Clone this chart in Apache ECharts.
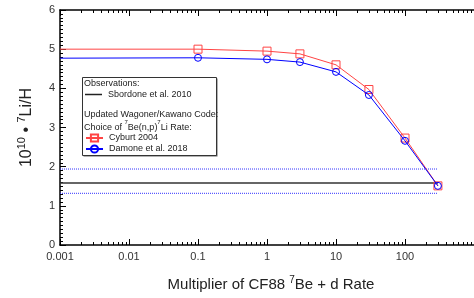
<!DOCTYPE html>
<html>
<head>
<meta charset="utf-8">
<script src="https://cdn.jsdelivr.net/npm/echarts@6/dist/echarts.min.js"></script>
<style>
  html, body { margin: 0; padding: 0; background: #fff; }
  #main { width: 474px; height: 298px; }
</style>
</head>
<body>
<div id="main"></div>
<script>
// multiplier of the CF88 7Be+d rate
var multipliers = [0.001, 0.1, 1, 3, 10, 30, 100, 300];
// 10^10 * 7Li/H
var cyburt2004 = [5.00, 5.00, 4.95, 4.88, 4.60, 3.97, 2.73, 1.51];
var damone2018 = [4.77, 4.78, 4.74, 4.67, 4.42, 3.83, 2.66, 1.51];
// observations (Sbordone et al. 2010) and its error band
var obsRange = [0.001, 300];
var obsMean = 1.58;
var obsHigh = 1.94;
var obsLow = 1.32;

var majorTicks = [0.001, 0.01, 0.1, 1, 10, 100, 1000];
var minorTicks = [];
for (var d = 0.001; d < 1000; d *= 10) {
  for (var m = 2; m <= 9; m++) minorTicks.push(+(d * m).toPrecision(3));
}

function pairs(xs, ys) {
  return xs.map(function (x, i) { return [x, ys[i]]; });
}
function flat(y) {
  return obsRange.map(function (x) { return [x, y]; });
}
function curve(xs, ys) {
  var out = pairs(xs, ys);
  // first point only starts the flat line at the axis, no marker
  out[0] = { value: out[0], symbol: 'none' };
  return out;
}

var font = 'Liberation Sans, Arial, sans-serif';
var red = '#ff4444', blue = '#0000ff';
var chart = echarts.init(document.getElementById('main'));

function xAx(pos, ticks, len, labels) {
  return {
    type: 'log', logBase: 10, min: 0.001, max: 1000, position: pos,
    axisLine: { show: labels, onZero: false, lineStyle: { color: '#000', width: 1.5 } },
    axisTick: { show: true, inside: true, length: len, customValues: ticks,
      lineStyle: { color: '#000', width: 1 } },
    axisLabel: { show: labels, customValues: [0.001, 0.01, 0.1, 1, 10, 100],
      color: '#333', fontSize: 11, fontFamily: font, margin: 6,
      formatter: function (v) { return String(v); } },
    splitLine: { show: false }
  };
}

chart.setOption({
  animation: false,
  backgroundColor: '#fff',
  grid: { left: 60, top: 10, width: 441, height: 235 },
  xAxis: [
    Object.assign(xAx('bottom', majorTicks, 6, true), {
      name: '{n|Multiplier of CF88 }{s|7}{n|Be + d Rate}',
      nameLocation: 'middle', nameGap: 30,
      nameTextStyle: { padding: [0, 0, 0, 8],
        rich: {
          n: { fontSize: 15, fontFamily: font, color: '#222', lineHeight: 20 },
          s: { fontSize: 10, fontFamily: font, color: '#222', verticalAlign: 'top', lineHeight: 20 }
        } }
    }),
    xAx('bottom', minorTicks, 3, false),
    Object.assign(xAx('top', majorTicks, 6, false), { axisLine: { show: true, onZero: false, lineStyle: { color: '#000', width: 1.5 } } }),
    xAx('top', minorTicks, 3, false)
  ],
  yAxis: {
    type: 'value', min: 0, max: 6, interval: 1,
    axisLine: { show: true, lineStyle: { color: '#000', width: 1.5 } },
    axisTick: { show: true, inside: true, length: 6, lineStyle: { color: '#000' } },
    minorTick: { show: true, splitNumber: 10, length: 3, lineStyle: { color: '#000' } },
    axisLabel: { color: '#333', fontSize: 11, fontFamily: font, margin: 5 },
    splitLine: { show: false },
    name: '{n|10}{s|10}{n| • }{s|7}{n|Li/H}',
    nameLocation: 'middle', nameGap: 22, nameRotate: 90,
    nameTextStyle: {
      rich: {
        n: { fontSize: 16, fontFamily: font, color: '#222', lineHeight: 22 },
        s: { fontSize: 11, fontFamily: font, color: '#222', verticalAlign: 'top', lineHeight: 22 }
      }
    }
  },
  legend: [
    {
      data: [{ name: 'Sbordone et al. 2010', icon: 'rect' }],
      orient: 'vertical', left: 85, top: 89, padding: 0,
      itemWidth: 17, itemHeight: 1.5, itemGap: 0,
      itemStyle: { color: '#222' },
      textStyle: { fontSize: 9, fontFamily: font, color: '#222', lineHeight: 11, padding: [0, 0, 0, 1] }
    },
    {
      data: ['Cyburt 2004', 'Damone et al. 2018'],
      orient: 'vertical', left: 85, top: 132.5, padding: 0,
      itemWidth: 17, itemHeight: 9, itemGap: 0,
      textStyle: { fontSize: 9, fontFamily: font, color: '#222', lineHeight: 11, padding: [0, 0, 0, 1] }
    }
  ],
  graphic: [
    { type: 'rect', left: 83.5, top: 78.5, z: 0, silent: true,
      shape: { width: 134, height: 78 }, style: { fill: '#666' } },
    { type: 'rect', left: 82, top: 77, z: 1, silent: true,
      shape: { width: 134, height: 78 }, style: { fill: '#fff', stroke: '#333', lineWidth: 1 } },
    { type: 'text', left: 84, top: 79, z: 2, silent: true,
      style: { text: 'Observations:', font: '9px ' + font, fill: '#222' } },
    { type: 'text', left: 84, top: 110.5, z: 2, silent: true,
      style: { text: 'Updated Wagoner/Kawano Code:', font: '9px ' + font, fill: '#222' } },
    { type: 'text', left: 84, top: 119, z: 2, silent: true,
      style: { text: '{n|Choice of }{s|7}{n|Be(n,p)}{s|7}{n|Li Rate:}',
        rich: {
          n: { fontSize: 9, fontFamily: font, fill: '#222', lineHeight: 13, verticalAlign: 'bottom' },
          s: { fontSize: 6, fontFamily: font, fill: '#222', lineHeight: 13, verticalAlign: 'top' }
        } } }
  ],
  series: [
    { name: 'obsHigh', type: 'line', data: flat(obsHigh), symbol: 'none', z: 3,
      lineStyle: { color: '#3333ff', width: 1, type: 'dotted' } },
    { name: 'obsLow', type: 'line', data: flat(obsLow), symbol: 'none', z: 3,
      lineStyle: { color: '#3333ff', width: 1, type: 'dotted' } },
    { name: 'Sbordone et al. 2010', type: 'line', data: flat(obsMean), symbol: 'none', z: 3,
      color: '#333', lineStyle: { color: '#333', width: 1.5 } },
    { name: 'Cyburt 2004', type: 'line', data: curve(multipliers, cyburt2004), z: 4,
      symbol: 'rect', symbolSize: 8,
      lineStyle: { color: red, width: 1 },
      itemStyle: { color: 'rgba(255,255,255,0)', borderColor: red, borderWidth: 1 } },
    { name: 'Damone et al. 2018', type: 'line', data: curve(multipliers, damone2018), z: 5,
      symbol: 'circle', symbolSize: 7,
      lineStyle: { color: blue, width: 1 },
      itemStyle: { color: 'rgba(255,255,255,0)', borderColor: blue, borderWidth: 1 } }
  ]
});
</script>
</body>
</html>
